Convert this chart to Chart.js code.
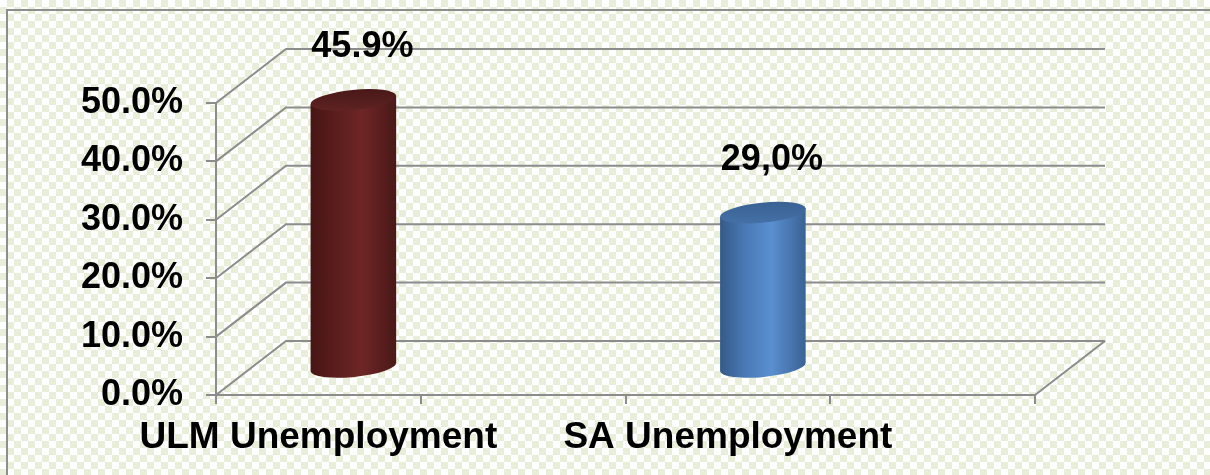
<!DOCTYPE html>
<html lang="en">

<head>
    <meta charset="UTF-8">
    <script src="https://cdn.jsdelivr.net/npm/chart.js"></script>
    <title>Unemployment</title>
</head>

<body>
    <div class="frame"></div>
    <div class="chart-wrapper">
        <canvas id="myChart"></canvas>
    </div>
    <style>
        body {
            margin: 0;
            background: repeating-conic-gradient(#e9eedb 0 25%, #ffffff 0 50%) 0 0 / 14px 14px;
            overflow: hidden;
        }

        .frame {
            position: absolute;
            left: 6px;
            top: 9px;
            width: 1300px;
            height: 600px;
            border-left: 2px solid #8e8e8e;
            border-top: 2px solid #8e8e8e;
        }

        .chart-wrapper {
            position: absolute;
            left: 0;
            top: 0;
            width: 1210px;
            height: 475px;
        }
    </style>
    <script>
        const categories = ["ULM Unemployment", "", "SA Unemployment", ""];
        const rates = [45.9, null, 26.6, null];
        const valueLabels = ["45.9%", "", "29,0%", ""];
        const yTicks = [0, 10, 20, 30, 40, 50];

        const DX = 70, DY = -54;
        const lineColor = "#8c8c8c";
        const fontFamily = "'Liberation Sans', Arial, sans-serif";

        const colors = [
            { side: ["#461515", "#5c1d1d", "#6e2626", "#4a1818"], top: ["#4a1818", "#5e2222"] },
            null,
            { side: ["#355a88", "#4a7ab6", "#5a8fd0", "#3a6294"], top: ["#3a6294", "#4470a6"] },
            null
        ];

        // back wall, side wall and floor behind the bars
        const walls = {
            id: "walls",
            beforeDatasetsDraw(chart) {
                const { ctx, chartArea: a, scales: { y } } = chart;
                ctx.save();
                ctx.strokeStyle = lineColor;
                ctx.lineWidth = 2;
                ctx.beginPath();
                yTicks.forEach(v => {
                    const py = y.getPixelForValue(v);
                    ctx.moveTo(a.left, py);
                    ctx.lineTo(a.left + DX, py + DY);
                    ctx.lineTo(a.right + DX, py + DY);
                });
                ctx.moveTo(a.right, a.bottom);
                ctx.lineTo(a.right + DX, a.bottom + DY);
                ctx.stroke();
                ctx.restore();
            }
        };

        const cylinders = {
            id: "cylinders",
            afterDatasetsDraw(chart) {
                const { ctx } = chart;
                const meta = chart.getDatasetMeta(0);
                const rot = -0.1;
                meta.data.forEach((bar, i) => {
                    if (rates[i] == null) return;
                    const c = colors[i];
                    const cx = bar.x + DX / 2;
                    const ty = bar.y + DY / 2;
                    const by = bar.base + DY / 2;
                    const rx = bar.width / 2, ry = 10;
                    const dxr = rx * Math.cos(rot), dyr = rx * Math.sin(rot);

                    ctx.save();
                    const g = ctx.createLinearGradient(cx - rx, 0, cx + rx, 0);
                    g.addColorStop(0, c.side[0]);
                    g.addColorStop(0.3, c.side[1]);
                    g.addColorStop(0.6, c.side[2]);
                    g.addColorStop(1, c.side[3]);
                    ctx.fillStyle = g;
                    ctx.beginPath();
                    ctx.moveTo(cx - dxr, ty - dyr);
                    ctx.lineTo(cx - dxr, by - dyr);
                    ctx.ellipse(cx, by, rx, ry, rot, Math.PI, 0, true);
                    ctx.lineTo(cx + dxr, ty + dyr);
                    ctx.closePath();
                    ctx.fill();

                    const gt = ctx.createLinearGradient(0, ty - ry, 0, ty + ry);
                    gt.addColorStop(0, c.top[0]);
                    gt.addColorStop(1, c.top[1]);
                    ctx.fillStyle = gt;
                    ctx.beginPath();
                    ctx.ellipse(cx, ty, rx, ry, rot, 0, Math.PI * 2);
                    ctx.fill();

                    ctx.fillStyle = "#000";
                    ctx.font = "bold 36px " + fontFamily;
                    ctx.textAlign = "center";
                    ctx.textBaseline = "middle";
                    ctx.fillText(valueLabels[i], cx + 9, ty - 53);
                    ctx.restore();
                });
            }
        };

        const ctx = document.getElementById("myChart");

        new Chart(ctx, {
            type: "bar",
            data: {
                labels: categories,
                datasets: [{
                    data: rates,
                    backgroundColor: "rgba(0,0,0,0)",
                    borderWidth: 0,
                    categoryPercentage: 1,
                    barPercentage: 0.42
                }]
            },
            options: {
                responsive: true,
                maintainAspectRatio: false,
                animation: false,
                layout: { padding: { left: 0, right: 175, top: 103, bottom: 0 } },
                plugins: {
                    legend: { display: false },
                    tooltip: { enabled: false }
                },
                scales: {
                    x: {
                        afterFit: (s) => { s.height = 80; },
                        border: { display: true, color: lineColor, width: 2 },
                        grid: { drawOnChartArea: false, drawTicks: true, tickLength: 9, color: lineColor, lineWidth: 2, offset: true },
                        ticks: {
                            color: "#000",
                            font: { family: fontFamily, size: 37, weight: "bold" },
                            padding: 12,
                            autoSkip: false,
                            maxRotation: 0
                        }
                    },
                    y: {
                        min: 0,
                        max: 50,
                        afterFit: (s) => { s.width = 216; },
                        afterBuildTicks: (s) => { s.ticks = yTicks.map(v => ({ value: v })); },
                        border: { display: true, color: lineColor, width: 2 },
                        grid: { drawOnChartArea: false, drawTicks: true, tickLength: 10, color: lineColor, lineWidth: 2 },
                        ticks: {
                            color: "#000",
                            font: { family: fontFamily, size: 36, weight: "bold" },
                            padding: 23,
                            callback: (v) => v.toFixed(1) + "%"
                        }
                    }
                }
            },
            plugins: [walls, cylinders]
        });
    </script>
</body>

</html>
